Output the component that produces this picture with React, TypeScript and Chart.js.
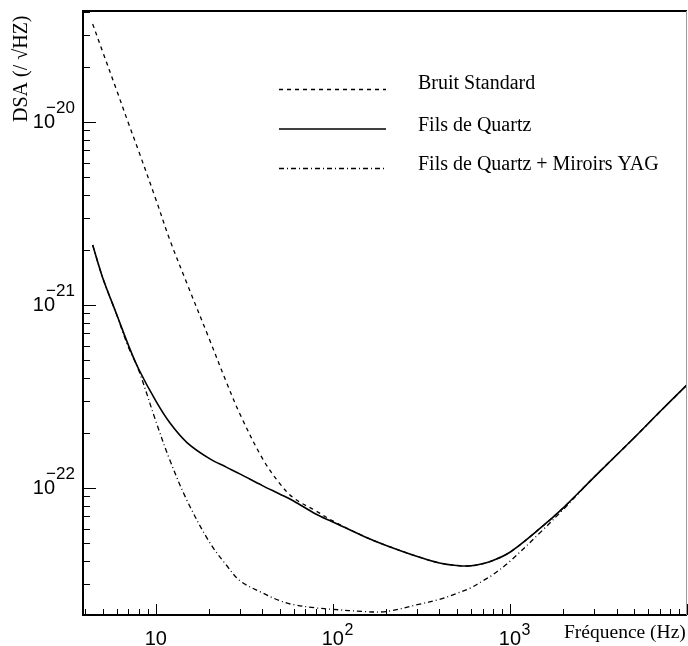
import React, { useEffect, useRef } from "react";
import { Chart, registerables } from "chart.js";

Chart.register(...registerables);

// ---- data ----
const frequencies = [4.4, 5, 6, 7, 8, 10, 12, 15, 20, 25, 30, 40, 50, 60, 80, 100, 150, 200, 300, 400, 500, 600, 700, 800, 1000, 1500, 2000, 3000, 5000, 7000, 10000];
const bruitStandard = [3.44e-20, 2.44e-20, 1.5e-20, 9.89e-21, 6.95e-21, 3.79e-21, 2.27e-21, 1.31e-21, 6.56e-22, 3.8e-22, 2.51e-22, 1.45e-22, 1.06e-22, 8.81e-23, 7.5e-23, 6.6e-23, 5.43e-23, 4.85e-23, 4.22e-23, 3.89e-23, 3.77e-23, 3.75e-23, 3.85e-23, 4.01e-23, 4.45e-23, 6.08e-23, 7.78e-23, 1.15e-22, 1.87e-22, 2.6e-22, 3.66e-22];
const filsQuartz = [2.13e-21, 1.42e-21, 8.93e-22, 6.04e-22, 4.47e-22, 2.99e-22, 2.27e-22, 1.77e-22, 1.45e-22, 1.3e-22, 1.19e-22, 1.03e-22, 9.27e-23, 8.49e-23, 7.2e-23, 6.52e-23, 5.43e-23, 4.85e-23, 4.22e-23, 3.89e-23, 3.77e-23, 3.75e-23, 3.85e-23, 4.01e-23, 4.45e-23, 6.08e-23, 7.78e-23, 1.15e-22, 1.87e-22, 2.6e-22, 3.66e-22];
const filsQuartzYAG = [2.13e-21, 1.42e-21, 8.9e-22, 5.89e-22, 4.41e-22, 2.32e-22, 1.42e-22, 8.55e-23, 5.09e-23, 3.79e-23, 3.1e-23, 2.67e-23, 2.42e-23, 2.3e-23, 2.21e-23, 2.17e-23, 2.11e-23, 2.11e-23, 2.3e-23, 2.46e-23, 2.65e-23, 2.84e-23, 3.1e-23, 3.35e-23, 3.97e-23, 5.77e-23, 7.63e-23, 1.15e-22, 1.87e-22, 2.6e-22, 3.66e-22];

const seriesLabels = ["Bruit Standard", "Fils de Quartz", "Fils de Quartz + Miroirs YAG"];

const xTickValues = [10, 100, 1000];
const xTickExponents = ["", "2", "3"];
const yTickValues = [1e-20, 1e-21, 1e-22];
const yTickExponents = ["\u221220", "\u221221", "\u221222"];

const xTitle = "Fréquence (Hz)";
const yTitle = "DSA (/ \u221AHZ)";

const SANS = "'Liberation Sans', Arial, sans-serif";
const SERIF = "'Liberation Serif', 'Times New Roman', serif";

const rootPlugin = {
  id: "rootAxes",
  afterDraw(chart: any) {
    const ctx: CanvasRenderingContext2D = chart.ctx;
    const { left, right, top, bottom } = chart.chartArea;
    const xs = chart.scales.x;
    const ys = chart.scales.y;
    ctx.save();
    ctx.strokeStyle = "#000";
    ctx.fillStyle = "#000";

    // frame
    ctx.lineWidth = 2;
    ctx.beginPath();
    ctx.moveTo(left, top);
    ctx.lineTo(right, top);
    ctx.moveTo(left, top - 1);
    ctx.lineTo(left, bottom);
    ctx.lineTo(right, bottom);
    ctx.stroke();
    ctx.lineWidth = 1;
    ctx.strokeStyle = "#9a9a9a";
    ctx.beginPath();
    ctx.moveTo(right - 0.5, top);
    ctx.lineTo(right - 0.5, bottom);
    ctx.stroke();

    // ticks
    ctx.strokeStyle = "#000";
    ctx.lineWidth = 1;
    ctx.beginPath();
    for (let e = 0; e <= 4; e++) {
      for (let m = 1; m <= 9; m++) {
        const v = m * Math.pow(10, e);
        if (v < xs.min || v > xs.max) continue;
        const px = Math.round(xs.getPixelForValue(v)) + 0.5;
        const len = m === 1 ? 11 : 6;
        ctx.moveTo(px, bottom);
        ctx.lineTo(px, bottom - len);
      }
    }
    for (let e = -24; e <= -19; e++) {
      for (let m = 1; m <= 9; m++) {
        const v = m * Math.pow(10, e);
        if (v < ys.min || v > ys.max) continue;
        const py = Math.round(ys.getPixelForValue(v)) + 0.5;
        const len = m === 1 ? 13 : 7;
        ctx.moveTo(left, py);
        ctx.lineTo(left + len, py);
      }
    }
    ctx.stroke();

    // x tick labels
    ctx.textBaseline = "alphabetic";
    xTickValues.forEach((v, i) => {
      const px = xs.getPixelForValue(v);
      ctx.font = `20px ${SANS}`;
      ctx.textAlign = "center";
      ctx.fillText("10", px, 645);
      const w = ctx.measureText("10").width;
      if (xTickExponents[i]) {
        ctx.font = `16px ${SANS}`;
        ctx.textAlign = "left";
        ctx.fillText(xTickExponents[i], px + w / 2 + 0.5, 635);
      }
    });

    // y tick labels
    yTickValues.forEach((v, i) => {
      const py = ys.getPixelForValue(v);
      ctx.font = `20px ${SANS}`;
      ctx.textAlign = "right";
      ctx.fillText("10", 55, py + 6);
      ctx.font = `17px ${SANS}`;
      ctx.textAlign = "left";
      ctx.fillText(yTickExponents[i], 46, py - 9);
    });

    // axis titles
    ctx.font = `19.5px ${SERIF}`;
    ctx.textAlign = "left";
    ctx.fillText(xTitle, 564, 638);
    ctx.save();
    ctx.translate(27, 122);
    ctx.rotate(-Math.PI / 2);
    ctx.font = `20px ${SERIF}`;
    ctx.textAlign = "left";
    ctx.fillText(yTitle, 0, 0);
    ctx.restore();

    // legend
    const lineY = [89.5, 129, 168.5];
    const textY = [89, 131, 170];
    chart.data.datasets.forEach((ds: any, i: number) => {
      ctx.save();
      ctx.strokeStyle = "#000";
      ctx.lineWidth = ds.borderWidth;
      ctx.setLineDash(ds.borderDash || []);
      ctx.beginPath();
      ctx.moveTo(279, lineY[i]);
      ctx.lineTo(386, lineY[i]);
      ctx.stroke();
      ctx.restore();
      ctx.font = `20px ${SERIF}`;
      ctx.textAlign = "left";
      ctx.fillText(ds.label, 418, textY[i]);
    });

    ctx.restore();
  },
};

export default function App() {
  const canvasRef = useRef<HTMLCanvasElement | null>(null);

  useEffect(() => {
    document.body.style.margin = "0";
    const canvas = canvasRef.current;
    if (!canvas) return;
    const mk = (arr: number[]) => frequencies.map((f, i) => ({ x: f, y: arr[i] }));
    const common = { borderColor: "#000", pointRadius: 0, fill: false, tension: 0.35 };
    const chart = new Chart(canvas, {
      type: "line",
      data: {
        datasets: [
          { ...common, label: seriesLabels[0], data: mk(bruitStandard), borderWidth: 1.3, borderDash: [4, 4] },
          { ...common, label: seriesLabels[1], data: mk(filsQuartz), borderWidth: 1.6 },
          { ...common, label: seriesLabels[2], data: mk(filsQuartzYAG), borderWidth: 1.3, borderDash: [5, 3, 1, 3] },
        ],
      },
      options: {
        animation: false,
        responsive: false,
        devicePixelRatio: 1,
        layout: { padding: { left: 83, right: 1, top: 11, bottom: 31 } },
        plugins: { legend: { display: false }, tooltip: { enabled: false } },
        scales: {
          x: {
            type: "logarithmic",
            min: 3.88,
            max: 10000,
            grid: { display: false, drawTicks: false },
            border: { display: false },
            ticks: { display: false },
            afterFit: (s: any) => { s.height = 0; },
          },
          y: {
            type: "logarithmic",
            min: 2.02e-23,
            max: 4.05e-20,
            grid: { display: false, drawTicks: false },
            border: { display: false },
            ticks: { display: false },
            afterFit: (s: any) => { s.width = 0; },
          },
        },
      },
      plugins: [rootPlugin],
    } as any);
    return () => chart.destroy();
  }, []);

  return (
    <div style={{ width: 688, height: 646, background: "#fff" }}>
      <canvas ref={canvasRef} width={688} height={646} style={{ display: "block" }} />
    </div>
  );
}
